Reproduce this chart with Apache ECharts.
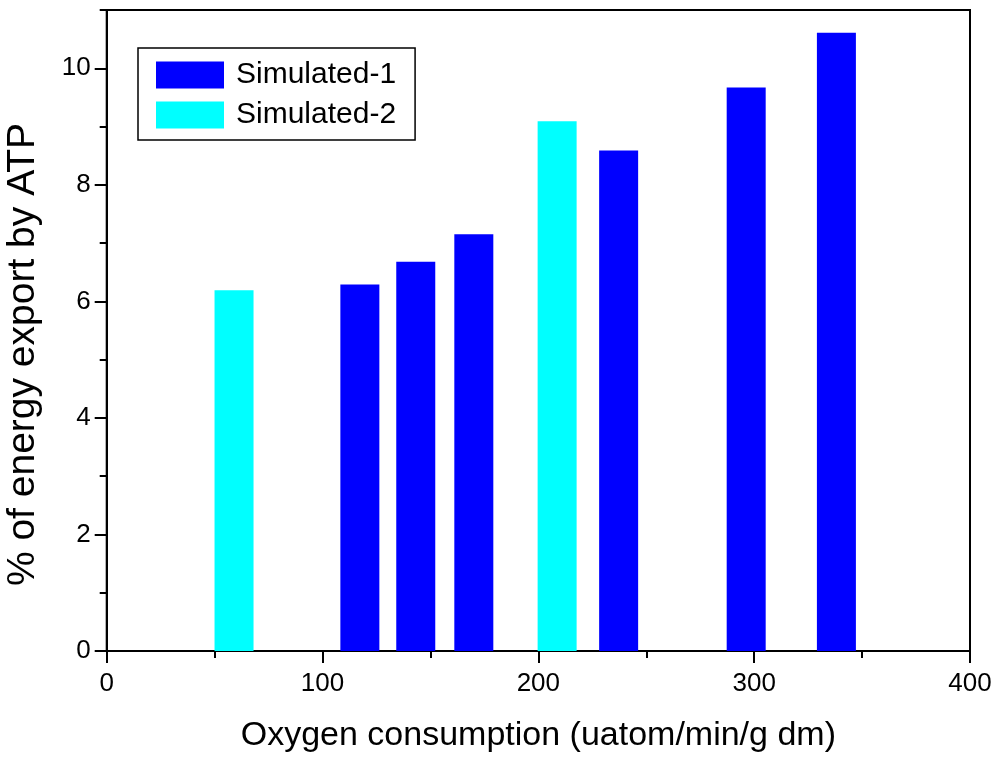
<!DOCTYPE html>
<html>
<head>
<meta charset="utf-8">
<script src="https://cdn.jsdelivr.net/npm/echarts@6/dist/echarts.min.js"></script>
<style>html,body{margin:0;padding:0;background:#fff}#c{width:1000px;height:762px}</style>
</head>
<body>
<div id="c"></div>
<script>
// Data
const sim1X = [117.3, 143.2, 170.1, 237.2, 296.3, 338.1];
const sim1Y = [6.29, 6.68, 7.15, 8.59, 9.67, 10.61];
const sim2X = [59, 208.7];
const sim2Y = [6.19, 9.09];
const xMajorTicks = [0, 100, 200, 300, 400];
const xMinorTicks = [50, 150, 250, 350];
const yMajorTicks = [0, 2, 4, 6, 8, 10];
const yMinorTicks = [1, 3, 5, 7, 9, 11];
const seriesNames = ['Simulated-1', 'Simulated-2'];
const xTitle = 'Oxygen consumption (uatom/min/g dm)';
const yTitle = '% of energy export by ATP';

const FONT = 'Liberation Sans, Arial, sans-serif';
const gridPos = {left: 106.7, right: 30, top: 10, bottom: 111, containLabel: false, outerBoundsMode: 'none'};
const chart = echarts.init(document.getElementById('c'), null, {renderer: 'canvas'});
const pair = (xs, ys) => xs.map((x, i) => [x, ys[i]]);

function tickAxis(gridIndex, min, max, values, len) {
  return {
    type: 'value', gridIndex: gridIndex, min: min, max: max,
    axisLine: {show: false, onZero: false},
    axisTick: {show: true, length: len, lineStyle: {color: '#000', width: 2}, customValues: values},
    axisLabel: {show: false},
    splitLine: {show: false}
  };
}

chart.setOption({
  animation: false,
  backgroundColor: '#fff',
  grid: [
    Object.assign({show: true, borderColor: '#000', borderWidth: 2, backgroundColor: 'transparent'}, gridPos),
    Object.assign({show: false}, gridPos),
    Object.assign({show: false}, gridPos)
  ],
  legend: {
    orient: 'vertical', left: 138, top: 48,
    padding: [12, 19, 10, 18],
    borderColor: '#000', borderWidth: 1.5,
    itemWidth: 68, itemHeight: 27, itemGap: 10,
    icon: 'rect',
    textStyle: {fontFamily: FONT, fontSize: 30, color: '#000', padding: [0, 0, 0, 7], lineHeight: 27},
    data: seriesNames
  },
  xAxis: [
    {
      type: 'value', gridIndex: 0, min: 0, max: 400, interval: 100,
      name: xTitle, nameLocation: 'middle', nameGap: 68,
      nameTextStyle: {fontFamily: FONT, fontSize: 34, color: '#000'},
      axisLine: {show: true, onZero: false, lineStyle: {color: '#000', width: 2}},
      axisTick: {show: false},
      axisLabel: {fontFamily: FONT, fontSize: 26, color: '#000', margin: 20},
      splitLine: {show: false}
    },
    tickAxis(1, 0, 400, xMinorTicks, 7),
    tickAxis(2, 0, 400, xMajorTicks, 12)
  ],
  yAxis: [
    {
      type: 'value', gridIndex: 0, min: 0, max: 11, interval: 2,
      name: yTitle, nameLocation: 'middle', nameGap: 64,
      nameTextStyle: {fontFamily: FONT, fontSize: 39, color: '#000', padding: [0, 48, 0, 0]},
      axisLine: {show: true, onZero: false, lineStyle: {color: '#000', width: 2}},
      axisTick: {show: false},
      axisLabel: {fontFamily: FONT, fontSize: 26, color: '#000', margin: 16, showMaxLabel: false},
      splitLine: {show: false}
    },
    tickAxis(1, 0, 11, yMinorTicks, 7),
    tickAxis(2, 0, 11, yMajorTicks, 12)
  ],
  series: [
    {
      name: seriesNames[0], type: 'bar', xAxisIndex: 0, yAxisIndex: 0,
      barWidth: 39, barGap: '-100%',
      itemStyle: {color: '#0000FF'},
      data: pair(sim1X, sim1Y)
    },
    {
      name: seriesNames[1], type: 'bar', xAxisIndex: 0, yAxisIndex: 0,
      barWidth: 39, barGap: '-100%',
      itemStyle: {color: '#00FFFF'},
      data: pair(sim2X, sim2Y)
    }
  ]
});
</script>
</body>
</html>
